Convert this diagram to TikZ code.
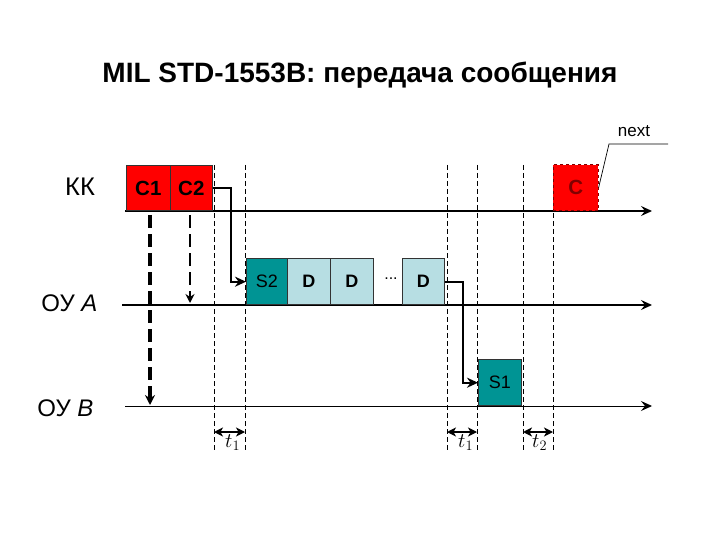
\documentclass[tikz,border=0pt]{standalone}
\usepackage{fontspec}
\setmainfont{Liberation Sans}
\usetikzlibrary{arrows.meta}
\definecolor{cred}{HTML}{FF0000}
\definecolor{cdark}{HTML}{800000}
\definecolor{steal}{HTML}{009494}
\definecolor{dblue}{HTML}{B7DEE3}
\tikzset{
  box/.style={draw=black!80, line width=0.6pt, minimum width=43, minimum height=46, inner sep=0pt, anchor=south west, font=\fontsize{18}{18}\selectfont},
  cbox/.style={box, fill=cred, font=\fontsize{20.5}{20.5}\selectfont\bfseries},
  sbox/.style={box, fill=steal},
  dbox/.style={box, fill=dblue, font=\fontsize{18}{18}\selectfont\bfseries},
  axis/.style={line width=1.4pt, -{Stealth[length=11pt,width=10pt,inset=4pt]}},
  vgrid/.style={dashed, dash pattern=on 5pt off 3pt, line width=0.7pt},
  conn/.style={line width=1.9pt, -{Stealth[length=11pt,width=10pt]}},
  tarr/.style={line width=1.3pt, {Stealth[length=9pt,width=9pt,inset=2.5pt]}-{Stealth[length=9pt,width=9pt,inset=2.5pt]}},
  lab/.style={font=\fontsize{24}{24}\selectfont},
  tlab/.style={font=\fontsize{22}{22}\selectfont, inner sep=0pt, anchor=base west}
}
\begin{document}
\begin{tikzpicture}[x=1pt,y=-1pt]
\useasboundingbox (0,0) rectangle (720,540);
% title
\node[font=\fontsize{28}{28}\selectfont\bfseries] (title) at (360,75) {MIL STD-1553B: передача сообщения};
% dashed verticals
\foreach \x/\n in {214/g1,245/g2,447/g3,477/g4,523/g5,553/g6}{
  \coordinate (\n t) at (\x,165);
  \coordinate (\n b) at (\x,452);
  \draw[vgrid] (\n t) -- (\n b);
}
% axes
\coordinate (kkS) at (125,211); \coordinate (kkE) at (652,211);
\coordinate (oaS) at (122,305); \coordinate (oaE) at (652,305);
\coordinate (obS) at (125,406); \coordinate (obE) at (652,406);
\draw[axis] (kkS) -- (kkE);
\draw[axis] (oaS) -- (oaE);
\draw[axis, line width=1pt] (obS) -- (obE);
% labels
\node[lab, font=\fontsize{25.5}{25.5}\selectfont] (kk) at (80,187) {КК};
\node[lab, anchor=east] (oa) at (101,303) {ОУ \textit{A}};
\node[lab, anchor=east] (ob) at (97,408) {ОУ \textit{B}};
% boxes
\node[cbox, minimum width=44, minimum height=45] (c1) at (126,211) {C1};
\node[cbox, minimum width=42, minimum height=45] (c2) at (170,211) {C2};
\node[cbox, minimum width=45, minimum height=46, draw=cdark, dashed, text=cdark] (cc) at (553,211) {C};
\node[sbox, minimum width=41] (s2) at (246,305) {S2};
\node[dbox] (d1) at (287,305) {D};
\node[dbox] (d2) at (330,305) {D};
\node[font=\fontsize{16}{16}\selectfont] (dots) at (391,279) {...};
\node[dbox, minimum width=42] (d3) at (402,305) {D};
\node[sbox] (s1) at (478,406) {S1};
% thick dashed arrows
\coordinate (a1t) at (150,215); \coordinate (a1b) at (150,405);
\coordinate (a2t) at (190,215); \coordinate (a2b) at (190,303);
\draw[line width=3.2pt, dash pattern=on 13pt off 6pt, -{Stealth[length=10pt,width=10pt]}] (a1t) -- (a1b);
\draw[line width=2.2pt, dash pattern=on 13pt off 6pt, -{Stealth[length=9pt,width=9pt]}] (a2t) -- (a2b);
% connectors
\draw[conn] (c2.east) -- ++(18,0) |- (s2.west);
\draw[conn] (d3.east) -- ++(18,0) |- (s1.west);
% next
\node[font=\fontsize{17}{17}\selectfont] (next) at (634,131) {next};
\coordinate (nR) at (668,144); \coordinate (nL) at (609,144);
\draw[line width=0.7pt] (nR) -- (nL) -- (cc.east);
% time marks
\coordinate (t1L) at (214,432); \coordinate (t1R) at (245,432);
\coordinate (t2L) at (447,432); \coordinate (t2R) at (477,432);
\coordinate (t3L) at (523,432); \coordinate (t3R) at (553,432);
\draw[tarr] (t1L) -- (t1R);
\draw[tarr] (t2L) -- (t2R);
\draw[tarr, line width=2pt] (t3L) -- (t3R);
\node[tlab] (l1) at (225,447) {$t_1$};
\node[tlab] (l2) at (458,447) {$t_1$};
\node[tlab] (l3) at (532,447) {$t_2$};
\end{tikzpicture}
\end{document}
